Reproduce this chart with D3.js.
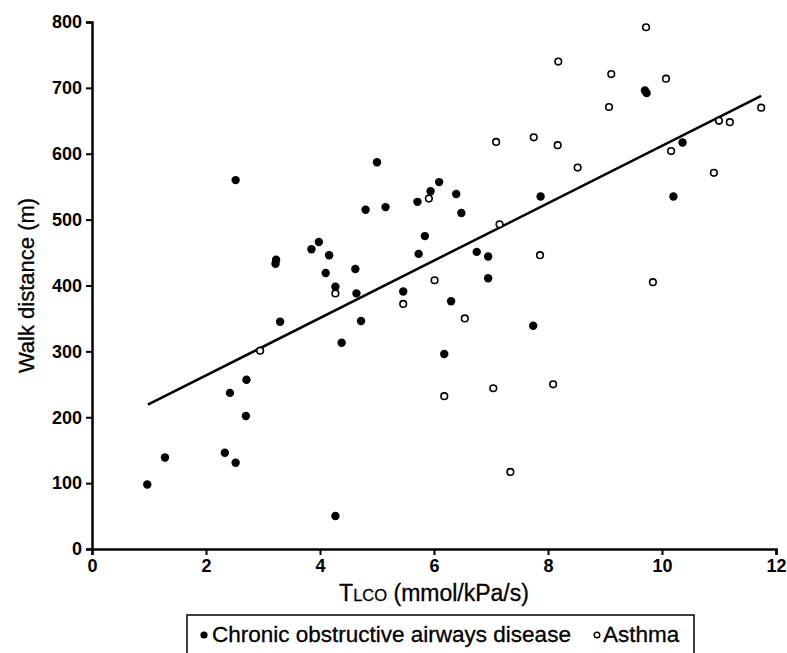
<!DOCTYPE html>
<html>
<head>
<meta charset="utf-8">
<script src="https://cdn.jsdelivr.net/npm/d3@7"></script>
<style>
  body { margin: 0; background: #fff; }
  svg { font-family: "Liberation Sans", Arial, sans-serif; }
</style>
</head>
<body>
<div class="chart"></div>
<script>
// COPD patients (filled dots): [TLCO, walk distance]
const copd = [
  [0.97, 98], [1.28, 139], [2.33, 146], [2.52, 131], [2.42, 237], [2.71, 257],
  [2.70, 202], [2.52, 560], [3.30, 345], [3.23, 439], [3.22, 433], [3.85, 455],
  [3.98, 466], [4.10, 419], [4.16, 446], [4.27, 398], [4.38, 313], [4.62, 425],
  [4.64, 388], [4.72, 346], [4.80, 515], [5.00, 587], [5.15, 519], [4.27, 50],
  [5.46, 391], [5.71, 527], [5.73, 448], [5.84, 475], [5.94, 543], [6.09, 557],
  [6.39, 539], [6.48, 510], [6.30, 376], [6.18, 296], [6.75, 451], [6.95, 444],
  [6.95, 411], [7.74, 339], [7.87, 535], [9.70, 696], [9.73, 692], [10.36, 617],
  [10.20, 535]
];

// Asthma patients (open circles)
const asthma = [
  [2.95, 301], [4.27, 388], [5.46, 372], [5.91, 532], [6.01, 408], [6.54, 350],
  [6.18, 232], [7.04, 244], [7.09, 618], [7.15, 493], [7.34, 117], [7.75, 625],
  [7.86, 446], [8.09, 250], [8.17, 613], [8.18, 740], [8.52, 579], [9.07, 671],
  [9.11, 721], [9.72, 792], [9.84, 405], [10.07, 714], [10.16, 604], [10.91, 571],
  [11.00, 650], [11.19, 648], [11.74, 670]
];

// regression line end points
const fitLine = [[0.98, 219], [11.74, 688]];

const xTicks = [0, 2, 4, 6, 8, 10, 12];
const yTicks = [0, 100, 200, 300, 400, 500, 600, 700, 800];
const legendItems = ["Chronic obstructive airways disease", "Asthma"];

const W = 787, H = 653;
const margin = {top: 22, right: 11, bottom: 104, left: 92};

const svg = d3.select(".chart")
  .append("svg")
  .attr("width", W)
  .attr("height", H);

const x = d3.scaleLinear()
  .domain([0, 12])
  .range([margin.left, W - margin.right]);

const y = d3.scaleLinear()
  .domain([0, 800])
  .range([H - margin.bottom, margin.top]);

// X axis
svg.append("g")
  .attr("transform", `translate(0, ${y(0)})`)
  .call(d3.axisBottom(x).tickValues(xTicks).tickSize(6).tickPadding(4).tickFormat(d3.format("d")));

// Y axis
svg.append("g")
  .attr("transform", `translate(${x(0)}, 0)`)
  .call(d3.axisLeft(y).tickValues(yTicks).tickSize(6).tickPadding(4).tickFormat(d3.format("d")));

svg.selectAll(".domain").attr("stroke", "#000").attr("stroke-width", 2.5);
svg.selectAll(".tick line").attr("stroke", "#000").attr("stroke-width", 2);
svg.selectAll(".tick text")
  .attr("fill", "#000")
  .style("font-size", "18px")
  .style("font-weight", "bold")
  .style("font-family", "'Liberation Sans', Arial, sans-serif");

// axis titles
svg.append("text")
  .attr("x", x(6))
  .attr("y", 601)
  .attr("text-anchor", "middle")
  .attr("stroke", "#000")
  .attr("stroke-width", 0.3)
  .style("font-size", "23px")
  .call(t => {
    t.append("tspan").text("T");
    t.append("tspan").style("font-size", "16.5px").text("LCO");
    t.append("tspan").text(" (mmol/kPa/s)");
  });

svg.append("text")
  .attr("transform", `translate(34, ${(y(0) + y(800)) / 2}) rotate(-90)`)
  .attr("text-anchor", "middle")
  .attr("stroke", "#000")
  .attr("stroke-width", 0.3)
  .style("font-size", "22px")
  .text("Walk distance (m)");

// regression line
svg.append("line")
  .attr("x1", x(fitLine[0][0]))
  .attr("y1", y(fitLine[0][1]))
  .attr("x2", x(fitLine[1][0]))
  .attr("y2", y(fitLine[1][1]))
  .attr("stroke", "#000")
  .attr("stroke-width", 2.5);

// points
svg.append("g").selectAll("circle")
  .data(asthma)
  .enter()
  .append("circle")
  .attr("cx", d => x(d[0]))
  .attr("cy", d => y(d[1]))
  .attr("r", 3.3)
  .attr("fill", "#fff")
  .attr("stroke", "#000")
  .attr("stroke-width", 1.6);

svg.append("g").selectAll("circle")
  .data(copd)
  .enter()
  .append("circle")
  .attr("cx", d => x(d[0]))
  .attr("cy", d => y(d[1]))
  .attr("r", 4.2)
  .attr("fill", "#000");

// legend
const lg = svg.append("g");
lg.append("rect")
  .attr("x", 187)
  .attr("y", 615)
  .attr("width", 507)
  .attr("height", 50)
  .attr("fill", "none")
  .attr("stroke", "#000")
  .attr("stroke-width", 1.5);

lg.append("circle").attr("cx", 204).attr("cy", 635).attr("r", 3.6).attr("fill", "#000");
lg.append("text")
  .attr("x", 212)
  .attr("y", 642)
  .attr("stroke", "#000")
  .attr("stroke-width", 0.3)
  .style("font-size", "22.5px")
  .text(legendItems[0]);

lg.append("circle").attr("cx", 597).attr("cy", 635).attr("r", 2.8)
  .attr("fill", "#fff").attr("stroke", "#000").attr("stroke-width", 1.4);
lg.append("text")
  .attr("x", 603)
  .attr("y", 642)
  .attr("stroke", "#000")
  .attr("stroke-width", 0.3)
  .style("font-size", "22.5px")
  .text(legendItems[1]);
</script>
</body>
</html>
